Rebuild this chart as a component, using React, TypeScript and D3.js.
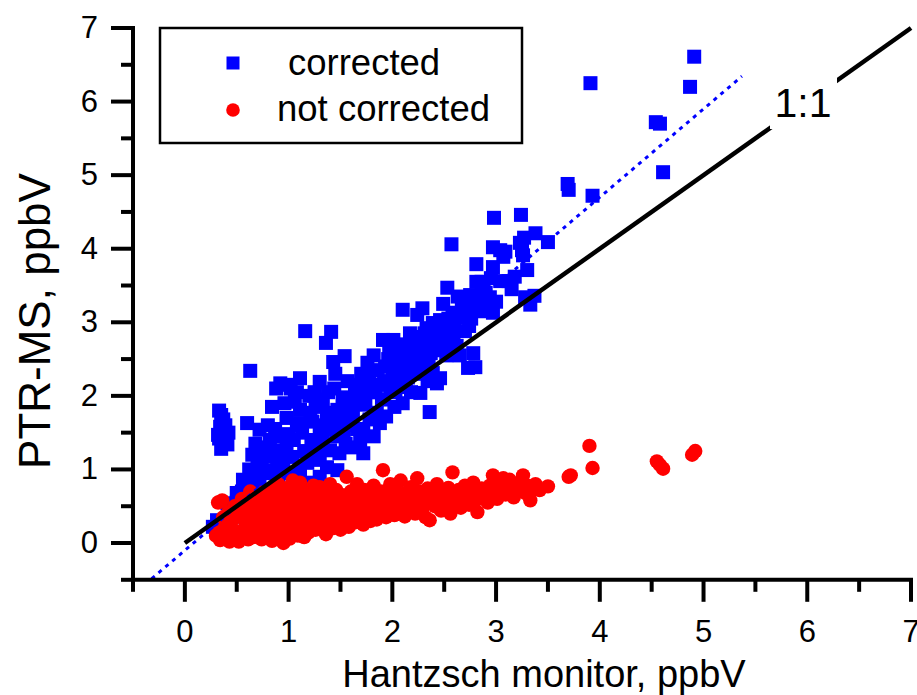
import React from 'react';
import * as d3 from 'd3';

const W = 917;
const H = 695;

const xDomain: [number, number] = [-0.5, 7];
const yDomain: [number, number] = [-0.5, 7];
const majorTicks = [0, 1, 2, 3, 4, 5, 6, 7];
const minorTicks = [-0.5, 0.5, 1.5, 2.5, 3.5, 4.5, 5.5, 6.5];
const tickLabels = ['0', '1', '2', '3', '4', '5', '6', '7'];
const xTitle = 'Hantzsch monitor, ppbV';
const yTitle = 'PTR-MS, ppbV';
const legendLabels = ['corrected', 'not corrected'];
const ratioLabel = '1:1';

const oneToOne: [number, number][] = [[0, 0], [7, 7]];
const fitSlope = 1.2;
const fitIntercept = -0.1;
const fitXRange = [-0.32, 5.37];

const corrected: [number, number][] = [
  [0.33, 1.80], [0.35, 1.74], [0.37, 1.68], [0.34, 1.58], [0.38, 1.52], [0.32, 1.47], [0.40, 1.44],
  [0.36, 1.38], [0.42, 1.50], [0.39, 1.60], [0.35, 1.28], [0.41, 1.34], [0.33, 1.42],
  [0.27, 0.22], [0.31, 0.31], [0.34, 0.27], [0.41, 0.54], [0.46, 0.49], [0.53, 0.45], [0.50, 0.68],
  [0.56, 0.58], [0.56, 0.86], [0.60, 0.62], [0.62, 0.75], [0.66, 0.76], [0.68, 0.92], [0.72, 0.86],
  [0.70, 1.05], [0.75, 1.22], [0.72, 1.54], [0.79, 0.99], [0.82, 1.40], [0.60, 1.63], [0.63, 2.34],
  [0.74, 1.10], [0.78, 1.30], [0.85, 1.18], [0.87, 1.55], [0.89, 1.26], [0.89, 1.03], [0.92, 2.17],
  [0.95, 1.09], [0.98, 1.36], [0.98, 1.70], [1.04, 1.17], [1.04, 0.86], [1.11, 0.99], [1.00, 1.48],
  [1.02, 2.10], [1.06, 1.92], [1.08, 1.60], [1.11, 1.81], [1.11, 1.63], [1.11, 2.24], [1.16, 2.88],
  [1.18, 1.09], [1.18, 0.82], [1.21, 1.77], [1.22, 1.40], [1.25, 2.05], [1.27, 0.72], [1.28, 1.25],
  [1.30, 1.54], [1.30, 1.13], [1.30, 0.90], [1.30, 2.19], [1.33, 1.95], [1.36, 2.72], [1.37, 1.77],
  [1.37, 1.03], [1.40, 1.26], [1.40, 1.71], [1.41, 2.87], [1.43, 2.46], [1.44, 2.10], [1.46, 1.45],
  [1.47, 1.81], [1.47, 0.99], [1.49, 1.63], [1.49, 1.22], [1.52, 1.98], [1.54, 2.54], [1.55, 1.35],
  [1.57, 2.20], [1.59, 1.81], [1.62, 1.77], [1.62, 1.30], [1.64, 2.02], [1.66, 1.55], [1.69, 1.40],
  [1.70, 2.30], [1.72, 1.54], [1.72, 1.22], [1.74, 1.88], [1.76, 2.45], [1.76, 2.22], [1.78, 1.68],
  [1.80, 2.05], [1.82, 1.45], [1.85, 1.77], [1.86, 2.35], [1.88, 1.63], [1.90, 1.95], [1.91, 2.76],
  [1.92, 2.20], [1.94, 1.72], [1.96, 2.50], [1.98, 2.08], [2.01, 2.76], [2.02, 1.85], [2.04, 2.30],
  [2.06, 2.58], [2.08, 2.12], [2.10, 1.90], [2.10, 3.17], [2.12, 2.42], [2.14, 2.65], [2.15, 2.25],
  [2.17, 2.85], [2.18, 2.05], [2.20, 2.73], [2.21, 2.50], [2.23, 2.35], [2.24, 3.10], [2.25, 2.62],
  [2.27, 2.04], [2.28, 2.80], [2.29, 3.19], [2.30, 2.48], [2.32, 2.68], [2.33, 2.92], [2.34, 2.20],
  [2.36, 1.78], [2.37, 2.58], [2.39, 2.99], [2.39, 2.31], [2.41, 2.75], [2.43, 2.17], [2.44, 2.62],
  [2.46, 3.03], [2.46, 2.24], [2.48, 2.85], [2.49, 3.25], [2.51, 2.94], [2.52, 2.55], [2.53, 3.47],
  [2.55, 2.72], [2.56, 2.85], [2.57, 4.06], [2.58, 3.13], [2.60, 2.98], [2.62, 2.68], [2.65, 3.07],
  [2.65, 2.55], [2.67, 3.20], [2.68, 3.30], [2.70, 2.88], [2.73, 2.38], [2.75, 3.37], [2.76, 3.05],
  [2.78, 2.58], [2.80, 2.39], [2.81, 3.55], [2.81, 3.79], [2.82, 3.33], [2.85, 3.15], [2.88, 3.42],
  [2.91, 3.21], [2.94, 3.34], [2.97, 3.13], [2.97, 3.75], [2.97, 4.02], [2.98, 4.42], [3.00, 3.28],
  [3.04, 3.98], [3.04, 3.56], [3.07, 3.89], [3.09, 3.96], [3.12, 3.56], [3.15, 3.45], [3.18, 3.62],
  [3.23, 4.08], [3.24, 4.46], [3.25, 3.98], [3.26, 3.91], [3.27, 4.15], [3.28, 3.34], [3.30, 3.71],
  [3.33, 3.24], [3.37, 3.36], [3.38, 4.21], [3.50, 4.09], [3.69, 4.88], [3.70, 4.80], [3.93, 4.72],
  [3.91, 6.25], [4.54, 5.72], [4.58, 5.70], [4.61, 5.04], [4.87, 6.20], [4.91, 6.61],
  [0.45, 0.35], [0.50, 0.55], [0.55, 0.70], [0.60, 0.50], [0.80, 0.70], [0.90, 0.80], [1.00, 0.95],
  [0.62, 1.00], [0.65, 1.20], [0.68, 1.35], [0.70, 0.80], [0.76, 0.95], [0.80, 1.60], [0.84, 1.85],
  [0.86, 0.95], [0.88, 2.10], [0.93, 1.45], [0.96, 1.90], [0.97, 1.20], [1.00, 2.15],
  [1.05, 1.40], [1.08, 2.05], [1.13, 1.50], [1.15, 1.25], [1.20, 2.00], [1.23, 1.65], [1.26, 1.85],
  [1.33, 1.40], [1.35, 1.60], [1.38, 2.05], [1.42, 1.55], [1.45, 2.30], [1.50, 1.70], [1.53, 1.50],
  [1.56, 1.95], [1.58, 1.60],
  [1.67, 1.90], [1.69, 2.15], [1.73, 2.00], [1.78, 2.30], [1.82, 2.55], [1.84, 2.05], [1.87, 2.15],
  [1.93, 2.40], [1.97, 2.65], [2.00, 2.25], [2.03, 2.05], [2.05, 2.45], [2.09, 2.70], [2.13, 2.15],
  [2.16, 2.55], [2.19, 2.40], [2.22, 2.62], [2.26, 2.30], [2.31, 2.85], [2.35, 2.45], [2.38, 2.75],
  [2.42, 2.90],
  [2.50, 2.70], [2.54, 3.05], [2.59, 2.80], [2.63, 3.35], [2.71, 3.10], [2.74, 2.95], [2.79, 3.20],
  [2.86, 3.55], [2.90, 3.40], [2.95, 3.60],
];

const notCorrected: [number, number][] = [
  [0.30, 0.10], [0.32, 0.55], [0.34, 0.04], [0.36, 0.58], [0.38, 0.20], [0.40, 0.12], [0.42, 0.42],
  [0.43, 0.02], [0.45, 0.30], [0.47, 0.08], [0.48, 0.50], [0.50, 0.15], [0.33, 0.14], [0.44, 0.25],
  [0.37, 0.35],
  [0.52, 0.02], [0.54, 0.35], [0.55, 0.60], [0.57, 0.10], [0.58, 0.22], [0.60, 0.45], [0.61, 0.05],
  [0.62, 0.30], [0.64, 0.18], [0.65, 0.55], [0.66, 0.08], [0.68, 0.40], [0.69, 0.25], [0.70, 0.62],
  [0.71, 0.12], [0.72, 0.33], [0.74, 0.05], [0.75, 0.48], [0.76, 0.20], [0.77, 0.70], [0.78, 0.10],
  [0.79, 0.38], [0.80, 0.27], [0.56, 0.45], [0.63, 0.70], [0.73, 0.58],
  [0.81, 0.55], [0.82, 0.15], [0.83, 0.72], [0.84, 0.03], [0.85, 0.42], [0.86, 0.30], [0.87, 0.60],
  [0.88, 0.08], [0.89, 0.22], [0.90, 0.80], [0.91, 0.35], [0.92, 0.50], [0.93, 0.12], [0.94, 0.65],
  [0.95, 0.00], [0.96, 0.28], [0.97, 0.45], [0.98, 0.18], [0.99, 0.75], [1.00, 0.38], [1.01, 0.06],
  [1.02, 0.58], [1.03, 0.25], [1.04, 0.85], [1.05, 0.15], [1.06, 0.47], [1.07, 0.68], [1.08, 0.32],
  [1.09, 0.10], [1.10, 0.55],
  [1.11, 0.82], [1.12, 0.20], [1.13, 0.40], [1.14, 0.62], [1.15, 0.08], [1.16, 0.30], [1.17, 0.50],
  [1.18, 0.70], [1.19, 0.14], [1.20, 0.42], [1.22, 0.25], [1.23, 0.60], [1.24, 0.78], [1.25, 0.35],
  [1.26, 0.18], [1.27, 0.52], [1.28, 0.66], [1.29, 0.28], [1.30, 0.76], [1.31, 0.45], [1.32, 0.22],
  [1.33, 0.58], [1.35, 0.38], [1.36, 0.12], [1.37, 0.68], [1.38, 0.30], [1.39, 0.50], [1.40, 0.80],
  [1.42, 0.20], [1.43, 0.44], [1.44, 0.62], [1.45, 0.33], [1.46, 0.72], [1.47, 0.25], [1.48, 0.54],
  [1.49, 0.40],
  [1.50, 0.18], [1.52, 0.65], [1.53, 0.45], [1.54, 0.30], [1.56, 0.90], [1.57, 0.55], [1.58, 0.22],
  [1.60, 0.70], [1.61, 0.38], [1.62, 0.50], [1.64, 0.28], [1.65, 0.62], [1.66, 0.80], [1.68, 0.42],
  [1.69, 0.35], [1.70, 0.58], [1.72, 0.25], [1.73, 0.72], [1.75, 0.48], [1.76, 0.36], [1.78, 0.64],
  [1.79, 0.30], [1.80, 0.55], [1.82, 0.78], [1.83, 0.44], [1.85, 0.32], [1.86, 0.60], [1.88, 0.50],
  [1.89, 0.70], [1.90, 0.40], [1.91, 0.99], [1.92, 0.58], [1.94, 0.35], [1.95, 0.66], [1.97, 0.48],
  [1.98, 0.80],
  [2.00, 0.55], [2.02, 0.38], [2.03, 0.72], [2.05, 0.62], [2.07, 0.45], [2.08, 0.85], [2.10, 0.52],
  [2.12, 0.36], [2.13, 0.68], [2.15, 0.58], [2.17, 0.46], [2.18, 0.76], [2.20, 0.62], [2.22, 0.40],
  [2.24, 0.88], [2.25, 0.55], [2.27, 0.70], [2.29, 0.48], [2.30, 0.60], [2.32, 0.35], [2.34, 0.74],
  [2.36, 0.31], [2.37, 0.56], [2.39, 0.66], [2.41, 0.50], [2.43, 0.80], [2.45, 0.58], [2.47, 0.44],
  [2.48, 0.70],
  [2.50, 0.62], [2.52, 0.52], [2.54, 0.75], [2.56, 0.40], [2.58, 0.96], [2.60, 0.65], [2.62, 0.55],
  [2.64, 0.72], [2.66, 0.48], [2.68, 0.60], [2.70, 0.78], [2.72, 0.66], [2.74, 0.52], [2.76, 0.70],
  [2.78, 0.82], [2.80, 0.58], [2.82, 0.42], [2.84, 0.66], [2.86, 0.74], [2.88, 0.60], [2.90, 0.70],
  [2.92, 0.55], [2.94, 0.78], [2.96, 0.65], [2.97, 0.92], [2.99, 0.72],
  [3.01, 0.60], [3.03, 0.80], [3.05, 0.70], [3.07, 0.88], [3.09, 0.66], [3.11, 0.76], [3.13, 0.86],
  [3.15, 0.70], [3.17, 0.62], [3.19, 0.78], [3.22, 0.72], [3.24, 0.84], [3.26, 0.92], [3.28, 0.68],
  [3.30, 0.78], [3.33, 0.58], [3.35, 0.74], [3.38, 0.80], [3.39, 0.76], [3.42, 0.72], [3.50, 0.77],
  [3.70, 0.90], [3.72, 0.92], [3.90, 1.32], [3.93, 1.02], [4.55, 1.11], [4.58, 1.06], [4.61, 1.01],
  [4.89, 1.20], [4.92, 1.25],
];

const FONT = "Arial, 'Liberation Sans', sans-serif";

export default function App() {
  const x = d3.scaleLinear().domain(xDomain).range([133, 911]);
  const y = d3.scaleLinear().domain(yDomain).range([579.8, 28]);
  const axisW = 4;
  const majorLen = 22;
  const minorLen = 12;
  const x0 = x(xDomain[0]);
  const y0 = y(yDomain[0]);

  const line = d3.line<[number, number]>().x((d) => x(d[0])).y((d) => y(d[1]));
  const fitPts: [number, number][] = fitXRange.map((v) => [v, fitSlope * v + fitIntercept]);

  const sq = 14;
  const r = 7.2;

  return (
    <svg
      width={W}
      height={H}
      style={{ position: 'absolute', left: 0, top: 0, background: '#fff' }}
      fontFamily={FONT}
    >
      <rect x={0} y={0} width={W} height={H} fill="#fff" />
      <g>
        {corrected.map((d, i) => (
          <rect key={'c' + i} x={x(d[0]) - sq / 2} y={y(d[1]) - sq / 2} width={sq} height={sq} fill="#0000ff" />
        ))}
      </g>
      <g>
        {notCorrected.map((d, i) => (
          <circle key={'n' + i} cx={x(d[0])} cy={y(d[1])} r={r} fill="#ff0000" />
        ))}
      </g>
      <path d={line(fitPts) || ''} fill="none" stroke="#0000ff" strokeWidth={3} strokeDasharray="4,5" />
      <path d={line(oneToOne) || ''} fill="none" stroke="#000" strokeWidth={4.5} />
      <rect x={770} y={76} width={67} height={53} fill="#fff" />
      <text x={803} y={117} fontSize={41} textAnchor="middle" fill="#000">{ratioLabel}</text>

      <g stroke="#000" strokeWidth={axisW} strokeLinecap="butt">
        <line x1={x0} x2={x(xDomain[1]) + axisW / 2} y1={y0} y2={y0} />
        <line x1={x0} x2={x0} y1={y0 + axisW / 2} y2={y(yDomain[1]) - axisW / 2} />
        {majorTicks.map((t) => (
          <line key={'xm' + t} x1={x(t)} x2={x(t)} y1={y0} y2={y0 + majorLen} />
        ))}
        {minorTicks.map((t) => (
          <line key={'xn' + t} x1={x(t)} x2={x(t)} y1={y0} y2={y0 + minorLen} />
        ))}
        {majorTicks.map((t) => (
          <line key={'ym' + t} x1={x0} x2={x0 - majorLen} y1={y(t)} y2={y(t)} />
        ))}
        {minorTicks.map((t) => (
          <line key={'yn' + t} x1={x0} x2={x0 - minorLen} y1={y(t)} y2={y(t)} />
        ))}
      </g>
      <g fontSize={31} fill="#000">
        {majorTicks.map((t, i) => (
          <text key={'xl' + t} x={x(t)} y={642} textAnchor="middle">{tickLabels[i]}</text>
        ))}
        {majorTicks.map((t, i) => (
          <text key={'yl' + t} x={98} y={y(t) + 10} textAnchor="end">{tickLabels[i]}</text>
        ))}
      </g>
      <text x={544} y={687} fontSize={38} textAnchor="middle" fill="#000">{xTitle}</text>
      <text transform={`translate(50, 321) rotate(-90)`} fontSize={44} textAnchor="middle" fill="#000">
        {yTitle}
      </text>

      <rect x={160} y={28} width={362} height={115} fill="#fff" stroke="#000" strokeWidth={2.5} />
      <rect x={233 - 13 / 2} y={63 - 13 / 2} width={13} height={13} fill="#0000ff" />
      <circle cx={233} cy={110} r={6.8} fill="#ff0000" />
      <text x={288} y={75} fontSize={36.5} fill="#000">{legendLabels[0]}</text>
      <text x={277} y={121} fontSize={36.5} fill="#000">{legendLabels[1]}</text>
    </svg>
  );
}
